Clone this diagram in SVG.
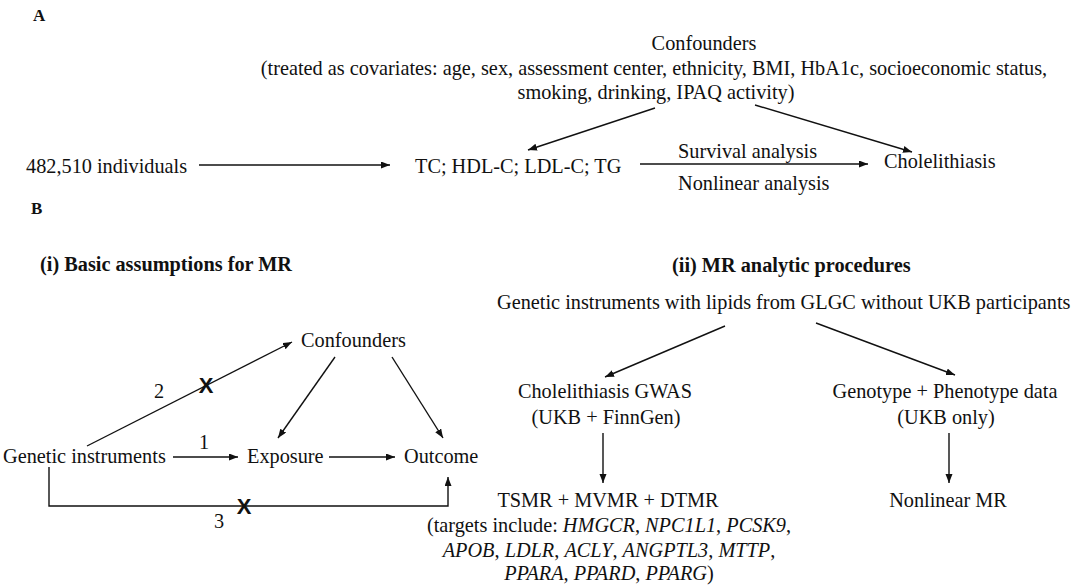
<svg xmlns="http://www.w3.org/2000/svg" width="1080" height="586" viewBox="0 0 1080 586">
<defs>
<marker id="arr" markerUnits="userSpaceOnUse" markerWidth="10" markerHeight="8" refX="9" refY="3.5" orient="auto">
<path d="M0,0 L9,3.5 L0,7 z" fill="#111"/>
</marker>
<style>
text{font-family:"Liberation Serif","Times New Roman",serif;font-size:20.3px;fill:#111}
.b{font-weight:bold}
.lab{font-size:17px;font-weight:bold}
.m{text-anchor:middle}
.i{font-style:italic}
.x{font-family:"Liberation Sans",Arial,sans-serif;font-size:22px;font-weight:bold;text-anchor:middle}
.ln{stroke:#111;stroke-width:1.4;fill:none}
.ar{stroke:#111;stroke-width:1.4;fill:none;marker-end:url(#arr)}
</style>
</defs>
<rect width="1080" height="586" fill="#fff"/>

<g id="panel-labels">
<text class="lab" x="33" y="21">A</text>
<text class="lab" x="31" y="214">B</text>
<text class="b" x="40" y="271">(i) Basic assumptions for MR</text>
<text class="b" x="672" y="272">(ii) MR analytic procedures</text>
</g>

<g id="connectors">
<line class="ar" x1="199" y1="165" x2="390" y2="165"/>
<line class="ar" x1="640" y1="164" x2="868" y2="164"/>
<line class="ar" x1="655" y1="108" x2="528" y2="150"/>
<line class="ar" x1="755" y1="105" x2="912" y2="152"/>

<line class="ar" x1="87" y1="446" x2="292" y2="342"/>
<line class="ar" x1="173" y1="457" x2="238" y2="457"/>
<line class="ar" x1="329" y1="457" x2="395" y2="457"/>
<line class="ar" x1="335" y1="357" x2="278" y2="438"/>
<line class="ar" x1="392" y1="357" x2="443" y2="438"/>
<path class="ar" d="M49,467 V506 H448 V477"/>
<text class="x" x="206" y="393">X</text>
<text class="x" x="244" y="514">X</text>
<text x="154" y="398">2</text>
<text x="199" y="449">1</text>
<text x="214" y="528">3</text>

<line class="ar" x1="725" y1="326" x2="605" y2="377"/>
<line class="ar" x1="816" y1="323" x2="955" y2="375"/>
<line class="ar" x1="603" y1="433" x2="603" y2="483"/>
<line class="ar" x1="949" y1="433" x2="949" y2="483"/>
</g>

<g id="confounders-a">
<text class="m" x="704" y="50">Confounders</text>
<text class="m" x="654" y="75">(treated as covariates: age, sex, assessment center, ethnicity, BMI, HbA1c, socioeconomic status,</text>
<text class="m" x="656" y="99">smoking, drinking, IPAQ activity)</text>
</g>
<g id="individuals"><text x="26" y="173">482,510 individuals</text></g>
<g id="lipids"><text x="415" y="173">TC; HDL-C; LDL-C; TG</text></g>
<g id="analysis-labels">
<text x="678" y="158">Survival analysis</text>
<text x="678" y="190">Nonlinear analysis</text>
</g>
<g id="cholelithiasis"><text x="884" y="168">Cholelithiasis</text></g>

<g id="confounders-b"><text x="301" y="347">Confounders</text></g>
<g id="genetic-instruments"><text x="3" y="463">Genetic instruments</text></g>
<g id="exposure"><text x="247" y="463">Exposure</text></g>
<g id="outcome"><text x="404" y="463">Outcome</text></g>

<g id="glgc"><text x="497" y="309">Genetic instruments with lipids from GLGC without UKB participants</text></g>
<g id="gwas">
<text class="m" x="605" y="398">Cholelithiasis GWAS</text>
<text class="m" x="606" y="424">(UKB + FinnGen)</text>
</g>
<g id="genopheno">
<text class="m" x="945" y="398">Genotype + Phenotype data</text>
<text class="m" x="946" y="424">(UKB only)</text>
</g>
<g id="tsmr">
<text class="m" x="608" y="507">TSMR + MVMR + DTMR</text>
<text class="m" x="609" y="532">(targets include: <tspan class="i">HMGCR</tspan>, <tspan class="i">NPC1L1</tspan>, <tspan class="i">PCSK9</tspan>,</text>
<text class="m" x="609" y="557"><tspan class="i">APOB</tspan>, <tspan class="i">LDLR</tspan>, <tspan class="i">ACLY</tspan>, <tspan class="i">ANGPTL3</tspan>, <tspan class="i">MTTP</tspan>,</text>
<text class="m" x="609" y="580"><tspan class="i">PPARA</tspan>, <tspan class="i">PPARD</tspan>, <tspan class="i">PPARG</tspan>)</text>
</g>
<g id="nonlinear-mr"><text class="m" x="948" y="507">Nonlinear MR</text></g>
</svg>
